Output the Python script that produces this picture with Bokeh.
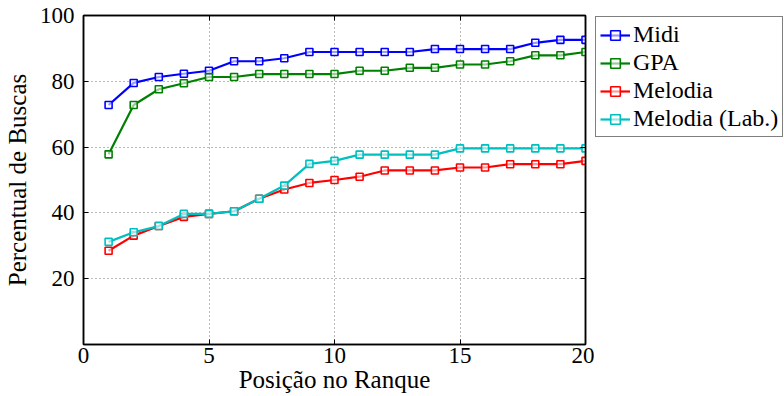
from bokeh.plotting import figure
from bokeh.models import LinearAxis, Legend, LegendItem, FixedTicker, Range1d
from bokeh.layouts import row
from bokeh.embed import file_html
from bokeh.resources import INLINE

positions = list(range(1, 21))
midi = [72.8, 79.5, 81.3, 82.3, 83.2, 86.1, 86.1, 87.0, 88.9, 88.9,
        88.9, 88.9, 88.9, 89.8, 89.8, 89.8, 89.8, 91.7, 92.6, 92.6]
gpa = [57.8, 72.8, 77.6, 79.4, 81.3, 81.3, 82.2, 82.2, 82.2, 82.2,
       83.2, 83.2, 84.1, 84.1, 85.1, 85.1, 86.1, 87.9, 87.9, 88.9]
melodia = [28.5, 33.1, 36.0, 38.8, 39.7, 40.5, 44.3, 47.1, 49.1, 50.0,
           51.0, 52.9, 52.9, 52.9, 53.8, 53.8, 54.8, 54.8, 54.8, 55.8]
melodia_lab = [31.2, 34.1, 36.0, 39.7, 39.7, 40.5, 44.3, 48.3, 54.9, 55.8,
               57.7, 57.7, 57.7, 57.7, 59.6, 59.6, 59.6, 59.6, 59.6, 59.6]
series_names = ["Midi", "GPA", "Melodia", "Melodia (Lab.)"]
colors = ["#0000FF", "#008000", "#FF0000", "#00BFBF"]
x_ticks = [0, 5, 10, 15, 20]
y_ticks = [20, 40, 60, 80, 100]

FONT = "Liberation Serif"

p = figure(width=594, height=396, output_backend="svg", toolbar_location=None,
           x_range=Range1d(0, 20), y_range=Range1d(0, 100),
           min_border_left=79, min_border_right=9, min_border_top=15,
           min_border_bottom=52)
p.outline_line_color = "black"
p.outline_line_width = 1.5

xa = p.xaxis[0]
ya = p.yaxis[0]
for ax in (xa, ya):
    ax.major_tick_in = 5
    ax.major_tick_out = 0
    ax.minor_tick_in = 0
    ax.minor_tick_out = 0
    ax.axis_line_color = "black"
    ax.axis_line_width = 1.5
    ax.major_label_text_font = FONT
    ax.major_label_text_font_size = "23px"
    ax.major_label_text_color = "black"
    ax.axis_label_text_font = FONT
    ax.axis_label_text_font_size = "25px"
    ax.axis_label_text_font_style = "normal"
    ax.axis_label_text_color = "black"

xa.ticker = FixedTicker(ticks=x_ticks)
ya.ticker = FixedTicker(ticks=y_ticks)
xa.axis_label = "Posição no Ranque"
ya.axis_label = "Percentual de Buscas"
xa.major_label_standoff = 3
xa.axis_label_standoff = 0
ya.major_label_standoff = 9
ya.axis_label_standoff = 6

top = LinearAxis(ticker=FixedTicker(ticks=x_ticks), major_tick_in=5, major_tick_out=0,
                 minor_tick_in=0, minor_tick_out=0,
                 major_label_overrides={t: "" for t in x_ticks},
                 major_label_standoff=0, axis_line_width=1.5)
right = LinearAxis(ticker=FixedTicker(ticks=y_ticks), major_tick_in=5, major_tick_out=0,
                   minor_tick_in=0, minor_tick_out=0,
                   major_label_overrides={t: "" for t in y_ticks},
                   major_label_standoff=0, axis_line_width=1.5)
p.add_layout(top, "above")
p.add_layout(right, "right")

p.xgrid.ticker = FixedTicker(ticks=[5, 10, 15])
p.ygrid.ticker = FixedTicker(ticks=[20, 40, 60, 80])
for g in (p.xgrid, p.ygrid):
    g.grid_line_color = "#777777"
    g.grid_line_dash = "1 3"
    g.grid_line_width = 1

# Legend-only figure: same series drawn outside its visible range
p_leg = figure(width=190, height=396, output_backend="svg", toolbar_location=None,
               x_range=Range1d(100, 101), y_range=Range1d(0, 100),
               min_border=0)
p_leg.axis.visible = False
p_leg.grid.visible = False
p_leg.outline_line_color = None

items = []
for name, vals, c in zip(series_names, [midi, gpa, melodia, melodia_lab], colors):
    for fig in (p, p_leg):
        l = fig.line(positions, vals, line_color=c, line_width=2.2)
        s = fig.scatter(positions, vals, marker="square", size=7, line_color=c,
                        fill_color="white", fill_alpha=0.6, line_width=1.6)
    items.append(LegendItem(label=name, renderers=[l, s]))

legend = Legend(items=items, location="top_left")
legend.border_line_color = "black"
legend.border_line_width = 1.5
legend.label_text_font = FONT
legend.label_text_font_size = "24px"
legend.label_text_color = "black"
legend.glyph_width = 30
legend.glyph_height = 24
legend.label_height = 24
legend.label_standoff = 3
legend.spacing = 1
legend.padding = 4
legend.margin = 1
legend.background_fill_color = "white"
p_leg.add_layout(legend, "center")

open("out.html", "w").write(file_html(row(p, p_leg), INLINE))
